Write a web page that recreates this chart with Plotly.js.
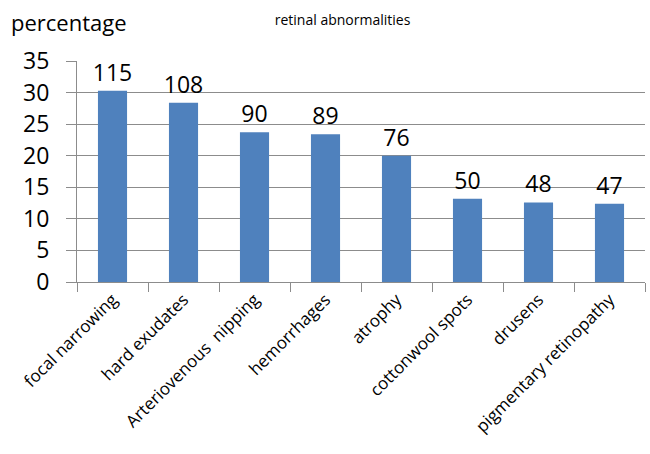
<!DOCTYPE html>
<html><head><meta charset="utf-8">
<script src="https://cdn.plot.ly/plotly-3.0.1.min.js"></script>
<style>body{margin:0;padding:0;background:#fff}#chart{width:650px;height:454px}</style>
</head><body><div id="chart"></div>
<script>
const categories = ["focal narrowing","hard exudates","Arteriovenous  nipping","hemorrhages","atrophy","cottonwool spots","drusens","pigmentary retinopathy"];
const percentages = [30.3, 28.4, 23.7, 23.4, 20.0, 13.2, 12.6, 12.4];
const counts = [115, 108, 90, 89, 76, 50, 48, 47];
const yTicks = [0,5,10,15,20,25,30,35];

const fontFam = "Open Sans, Noto Sans, sans-serif";
Plotly.newPlot('chart', [{
  type: 'bar',
  x: categories,
  y: percentages,
  text: counts.map(String),
  textposition: 'outside',
  constraintext: 'none',
  cliponaxis: false,
  textfont: {family: fontFam, size: 23, color: '#000'},
  marker: {color: '#4F81BD', line: {width: 0}},
  hoverinfo: 'none'
}], {
  width: 650, height: 454,
  margin: {l: 77, r: 5, t: 61, b: 172},
  paper_bgcolor: '#fff', plot_bgcolor: '#fff',
  bargap: 0.59,
  showlegend: false,
  title: {text: 'retinal abnormalities', x: 0.527, xanchor: 'center', y: 0.955, yanchor: 'middle',
          font: {family: fontFam, size: 14, color: '#000'}},
  xaxis: {
    type: 'category',
    showline: true, linecolor: '#8c8c8c', linewidth: 1,
    ticks: 'outside', tickson: 'boundaries', ticklen: 9, tickcolor: '#8c8c8c',
    tickangle: -45, tickfont: {family: fontFam, size: 17, color: '#000'},
    showgrid: false
  },
  yaxis: {
    range: [0, 35], tickvals: yTicks, ticktext: yTicks.map(String),
    showline: true, linecolor: '#8c8c8c', linewidth: 1,
    ticks: 'outside', ticklen: 10, tickcolor: '#8c8c8c',
    showgrid: true, gridcolor: '#8c8c8c', gridwidth: 1,
    zeroline: false,
    tickfont: {family: fontFam, size: 23, color: '#000'},
    ticklabelstandoff: 12
  },
  annotations: [{
    text: 'percentage', xref: 'paper', yref: 'paper', x: -0.12, y: 1.176,
    xanchor: 'left', yanchor: 'middle', showarrow: false,
    font: {family: fontFam, size: 22, color: '#000'}
  }]
}, {displayModeBar: false, staticPlot: true});
</script></body></html>
